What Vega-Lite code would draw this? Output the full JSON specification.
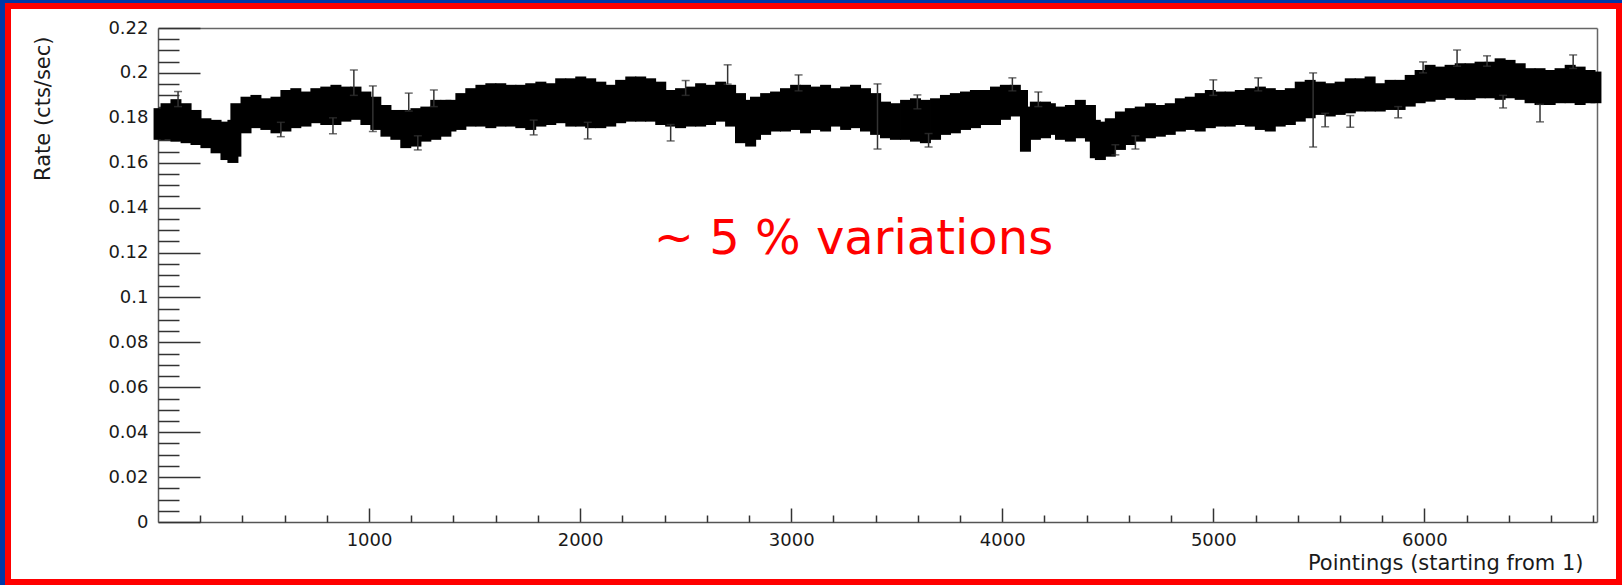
{
  "$schema": "https://vega.github.io/schema/vega-lite/v6.json",
  "width": 1611,
  "height": 576,
  "autosize": {"type": "none"},
  "padding": {"left": 8, "top": 6, "right": 3, "bottom": 3},
  "background": "#0038a8",
  "config": {
    "view": {"fill": "white", "stroke": "#ff0000", "strokeWidth": 6},
    "axis": {
      "grid": false,
      "labelFont": "DejaVu Sans",
      "labelFontSize": 18,
      "labelColor": "#1a1a1a",
      "titleFont": "DejaVu Sans",
      "titleFontSize": 21,
      "titleFontWeight": "normal",
      "titleColor": "#1a1a1a",
      "tickColor": "#333333",
      "tickWidth": 1.5,
      "domainColor": "#555555",
      "domainWidth": 1.5
    }
  },
  "datasets": {
    "band": [
      {"p": 5, "low": 0.1702, "high": 0.1843},
      {"p": 38, "low": 0.1702, "high": 0.1865},
      {"p": 85, "low": 0.1694, "high": 0.1883},
      {"p": 133, "low": 0.1687, "high": 0.1865},
      {"p": 180, "low": 0.1679, "high": 0.1835},
      {"p": 227, "low": 0.1665, "high": 0.1798},
      {"p": 275, "low": 0.1642, "high": 0.1791},
      {"p": 322, "low": 0.1612, "high": 0.1783},
      {"p": 355, "low": 0.1599, "high": 0.1791},
      {"p": 369, "low": 0.1627, "high": 0.1865},
      {"p": 417, "low": 0.1731, "high": 0.1894},
      {"p": 464, "low": 0.1754, "high": 0.1902},
      {"p": 511, "low": 0.1746, "high": 0.1887},
      {"p": 559, "low": 0.1731, "high": 0.1894},
      {"p": 606, "low": 0.1739, "high": 0.1924},
      {"p": 653, "low": 0.1754, "high": 0.1932},
      {"p": 701, "low": 0.1761, "high": 0.1917},
      {"p": 748, "low": 0.1776, "high": 0.1932},
      {"p": 795, "low": 0.1768, "high": 0.1939},
      {"p": 843, "low": 0.1768, "high": 0.1947},
      {"p": 890, "low": 0.1783, "high": 0.1939},
      {"p": 938, "low": 0.1791, "high": 0.1939},
      {"p": 985, "low": 0.1768, "high": 0.1917},
      {"p": 1032, "low": 0.1746, "high": 0.1894},
      {"p": 1080, "low": 0.1716, "high": 0.1857},
      {"p": 1127, "low": 0.1702, "high": 0.1835},
      {"p": 1174, "low": 0.1665, "high": 0.1835},
      {"p": 1222, "low": 0.1672, "high": 0.1843},
      {"p": 1269, "low": 0.1694, "high": 0.1850},
      {"p": 1316, "low": 0.1702, "high": 0.1880},
      {"p": 1364, "low": 0.1716, "high": 0.1880},
      {"p": 1388, "low": 0.1739, "high": 0.1880},
      {"p": 1435, "low": 0.1746, "high": 0.1910},
      {"p": 1482, "low": 0.1761, "high": 0.1932},
      {"p": 1530, "low": 0.1761, "high": 0.1947},
      {"p": 1577, "low": 0.1754, "high": 0.1954},
      {"p": 1624, "low": 0.1761, "high": 0.1954},
      {"p": 1672, "low": 0.1761, "high": 0.1947},
      {"p": 1719, "low": 0.1754, "high": 0.1947},
      {"p": 1766, "low": 0.1746, "high": 0.1954},
      {"p": 1814, "low": 0.1761, "high": 0.1961},
      {"p": 1861, "low": 0.1768, "high": 0.1954},
      {"p": 1908, "low": 0.1776, "high": 0.1976},
      {"p": 1956, "low": 0.1761, "high": 0.1976},
      {"p": 2003, "low": 0.1761, "high": 0.1984},
      {"p": 2050, "low": 0.1754, "high": 0.1976},
      {"p": 2098, "low": 0.1754, "high": 0.1961},
      {"p": 2145, "low": 0.1761, "high": 0.1947},
      {"p": 2192, "low": 0.1776, "high": 0.1969},
      {"p": 2240, "low": 0.1783, "high": 0.1984},
      {"p": 2287, "low": 0.1783, "high": 0.1984},
      {"p": 2334, "low": 0.1783, "high": 0.1976},
      {"p": 2382, "low": 0.1768, "high": 0.1961},
      {"p": 2429, "low": 0.1761, "high": 0.1924},
      {"p": 2476, "low": 0.1754, "high": 0.1932},
      {"p": 2524, "low": 0.1761, "high": 0.1939},
      {"p": 2571, "low": 0.1761, "high": 0.1954},
      {"p": 2618, "low": 0.1768, "high": 0.1947},
      {"p": 2666, "low": 0.1783, "high": 0.1961},
      {"p": 2713, "low": 0.1761, "high": 0.1947},
      {"p": 2760, "low": 0.1687, "high": 0.1910},
      {"p": 2808, "low": 0.1672, "high": 0.1880},
      {"p": 2831, "low": 0.1702, "high": 0.1894},
      {"p": 2879, "low": 0.1724, "high": 0.1910},
      {"p": 2926, "low": 0.1739, "high": 0.1917},
      {"p": 2973, "low": 0.1739, "high": 0.1932},
      {"p": 3021, "low": 0.1746, "high": 0.1947},
      {"p": 3068, "low": 0.1731, "high": 0.1947},
      {"p": 3116, "low": 0.1746, "high": 0.1939},
      {"p": 3163, "low": 0.1739, "high": 0.1947},
      {"p": 3210, "low": 0.1761, "high": 0.1932},
      {"p": 3258, "low": 0.1746, "high": 0.1939},
      {"p": 3305, "low": 0.1754, "high": 0.1947},
      {"p": 3352, "low": 0.1739, "high": 0.1932},
      {"p": 3400, "low": 0.1724, "high": 0.1910},
      {"p": 3447, "low": 0.1709, "high": 0.1872},
      {"p": 3494, "low": 0.1702, "high": 0.1865},
      {"p": 3542, "low": 0.1702, "high": 0.1880},
      {"p": 3589, "low": 0.1694, "high": 0.1887},
      {"p": 3636, "low": 0.1687, "high": 0.1880},
      {"p": 3684, "low": 0.1702, "high": 0.1887},
      {"p": 3731, "low": 0.1724, "high": 0.1902},
      {"p": 3778, "low": 0.1731, "high": 0.1910},
      {"p": 3826, "low": 0.1746, "high": 0.1917},
      {"p": 3873, "low": 0.1754, "high": 0.1924},
      {"p": 3920, "low": 0.1768, "high": 0.1924},
      {"p": 3968, "low": 0.1768, "high": 0.1939},
      {"p": 4015, "low": 0.1791, "high": 0.1947},
      {"p": 4062, "low": 0.1806, "high": 0.1947},
      {"p": 4096, "low": 0.1813, "high": 0.1924},
      {"p": 4110, "low": 0.1649, "high": 0.1850},
      {"p": 4157, "low": 0.1702, "high": 0.1872},
      {"p": 4205, "low": 0.1709, "high": 0.1872},
      {"p": 4228, "low": 0.1724, "high": 0.1865},
      {"p": 4276, "low": 0.1702, "high": 0.1850},
      {"p": 4323, "low": 0.1694, "high": 0.1857},
      {"p": 4370, "low": 0.1709, "high": 0.1880},
      {"p": 4418, "low": 0.1694, "high": 0.1857},
      {"p": 4441, "low": 0.1620, "high": 0.1791},
      {"p": 4465, "low": 0.1612, "high": 0.1783},
      {"p": 4512, "low": 0.1627, "high": 0.1798},
      {"p": 4560, "low": 0.1657, "high": 0.1828},
      {"p": 4607, "low": 0.1679, "high": 0.1843},
      {"p": 4654, "low": 0.1694, "high": 0.1850},
      {"p": 4702, "low": 0.1709, "high": 0.1865},
      {"p": 4749, "low": 0.1716, "high": 0.1857},
      {"p": 4796, "low": 0.1724, "high": 0.1865},
      {"p": 4844, "low": 0.1739, "high": 0.1887},
      {"p": 4891, "low": 0.1746, "high": 0.1894},
      {"p": 4938, "low": 0.1739, "high": 0.1910},
      {"p": 4986, "low": 0.1754, "high": 0.1924},
      {"p": 5033, "low": 0.1761, "high": 0.1917},
      {"p": 5080, "low": 0.1761, "high": 0.1917},
      {"p": 5128, "low": 0.1768, "high": 0.1924},
      {"p": 5175, "low": 0.1761, "high": 0.1932},
      {"p": 5223, "low": 0.1746, "high": 0.1939},
      {"p": 5270, "low": 0.1739, "high": 0.1932},
      {"p": 5317, "low": 0.1761, "high": 0.1924},
      {"p": 5365, "low": 0.1768, "high": 0.1932},
      {"p": 5412, "low": 0.1783, "high": 0.1961},
      {"p": 5459, "low": 0.1798, "high": 0.1969},
      {"p": 5507, "low": 0.1813, "high": 0.1961},
      {"p": 5554, "low": 0.1806, "high": 0.1954},
      {"p": 5601, "low": 0.1813, "high": 0.1961},
      {"p": 5649, "low": 0.1820, "high": 0.1976},
      {"p": 5696, "low": 0.1828, "high": 0.1976},
      {"p": 5743, "low": 0.1828, "high": 0.1984},
      {"p": 5791, "low": 0.1828, "high": 0.1954},
      {"p": 5838, "low": 0.1835, "high": 0.1969},
      {"p": 5885, "low": 0.1835, "high": 0.1969},
      {"p": 5933, "low": 0.1850, "high": 0.1991},
      {"p": 5980, "low": 0.1865, "high": 0.2013},
      {"p": 6027, "low": 0.1872, "high": 0.2036},
      {"p": 6075, "low": 0.1880, "high": 0.2028},
      {"p": 6122, "low": 0.1887, "high": 0.2036},
      {"p": 6170, "low": 0.1880, "high": 0.2043},
      {"p": 6217, "low": 0.1880, "high": 0.2043},
      {"p": 6264, "low": 0.1887, "high": 0.2050},
      {"p": 6312, "low": 0.1887, "high": 0.2050},
      {"p": 6359, "low": 0.1880, "high": 0.2065},
      {"p": 6406, "low": 0.1887, "high": 0.2058},
      {"p": 6454, "low": 0.1880, "high": 0.2043},
      {"p": 6501, "low": 0.1865, "high": 0.2021},
      {"p": 6548, "low": 0.1857, "high": 0.2021},
      {"p": 6596, "low": 0.1857, "high": 0.2013},
      {"p": 6643, "low": 0.1865, "high": 0.2021},
      {"p": 6691, "low": 0.1865, "high": 0.2036},
      {"p": 6738, "low": 0.1857, "high": 0.2028},
      {"p": 6785, "low": 0.1865, "high": 0.2013},
      {"p": 6813, "low": 0.1865, "high": 0.2006}
    ],
    "outliers": [
      {"p": 95, "low": 0.1850, "high": 0.1917},
      {"p": 582, "low": 0.1716, "high": 0.1780},
      {"p": 829, "low": 0.1729, "high": 0.1800},
      {"p": 928, "low": 0.1900, "high": 0.2013},
      {"p": 1018, "low": 0.1739, "high": 0.1942},
      {"p": 1188, "low": 0.1830, "high": 0.1910},
      {"p": 1231, "low": 0.1657, "high": 0.1720},
      {"p": 1307, "low": 0.1850, "high": 0.1924},
      {"p": 1780, "low": 0.1724, "high": 0.1790},
      {"p": 2036, "low": 0.1706, "high": 0.1780},
      {"p": 2429, "low": 0.1697, "high": 0.1770},
      {"p": 2500, "low": 0.1900, "high": 0.1966},
      {"p": 2699, "low": 0.1950, "high": 0.2036},
      {"p": 3035, "low": 0.1920, "high": 0.1991},
      {"p": 3409, "low": 0.1661, "high": 0.1951},
      {"p": 3598, "low": 0.1840, "high": 0.1902},
      {"p": 3651, "low": 0.1670, "high": 0.1730},
      {"p": 4048, "low": 0.1920, "high": 0.1978},
      {"p": 4171, "low": 0.1850, "high": 0.1915},
      {"p": 4536, "low": 0.1635, "high": 0.1680},
      {"p": 4631, "low": 0.1661, "high": 0.1720},
      {"p": 5000, "low": 0.1900, "high": 0.1969},
      {"p": 5213, "low": 0.1920, "high": 0.1978},
      {"p": 5473, "low": 0.1670, "high": 0.2000},
      {"p": 5530, "low": 0.1760, "high": 0.1820},
      {"p": 5649, "low": 0.1758, "high": 0.1810},
      {"p": 5876, "low": 0.1800, "high": 0.1850},
      {"p": 5994, "low": 0.2000, "high": 0.2049},
      {"p": 6155, "low": 0.2030, "high": 0.2102},
      {"p": 6297, "low": 0.2030, "high": 0.2076},
      {"p": 6373, "low": 0.1844, "high": 0.1900},
      {"p": 6548, "low": 0.1782, "high": 0.1860},
      {"p": 6705, "low": 0.2020, "high": 0.2080}
    ],
    "note": [
      {"p": 3295, "rate": 0.1194, "label": "~ 5 % variations"}
    ]
  },
  "layer": [
    {
      "data": {"name": "band"},
      "mark": {"type": "rule", "strokeWidth": 11, "color": "#000000"},
      "encoding": {
        "x": {
          "field": "p", "type": "quantitative",
          "scale": {"domain": [0, 6818], "range": [150, 1589], "nice": false, "zero": false},
          "axis": {
            "orient": "bottom", "offset": -60,
            "values": [1000, 2000, 3000, 4000, 5000, 6000],
            "format": "d", "tickSize": -14, "labelPadding": 23,
            "title": "Pointings (starting from 1)",
            "titleX": 1575, "titleY": 41, "titleAlign": "right", "titleBaseline": "middle"
          }
        },
        "y": {
          "field": "low", "type": "quantitative",
          "scale": {"domain": [0, 0.22], "range": [516, 22], "nice": false, "zero": false},
          "axis": {
            "orient": "left", "offset": -150,
            "values": [0, 0.02, 0.04, 0.06, 0.08, 0.1, 0.12, 0.14, 0.16, 0.18, 0.2, 0.22],
            "format": "~g", "tickSize": -42, "labelPadding": 52,
            "title": "Rate (cts/sec)",
            "titleX": -115, "titleY": 30, "titleAngle": -90, "titleAlign": "right", "titleBaseline": "middle"
          }
        },
        "y2": {"field": "high"}
      }
    },
    {
      "data": {"name": "outliers"},
      "mark": {"type": "rule", "strokeWidth": 1.5, "color": "#333333"},
      "encoding": {
        "x": {
          "field": "p", "type": "quantitative",
          "axis": {
            "orient": "bottom", "offset": -60,
            "values": [200, 400, 600, 800, 1200, 1400, 1600, 1800, 2200, 2400, 2600, 2800, 3200, 3400, 3600, 3800, 4200, 4400, 4600, 4800, 5200, 5400, 5600, 5800, 6200, 6400, 6600, 6800],
            "labels": false, "domain": false, "tickSize": -7, "title": null
          }
        },
        "y": {
          "field": "low", "type": "quantitative",
          "axis": {
            "orient": "left", "offset": -150,
            "values": [0.005, 0.01, 0.015, 0.025, 0.03, 0.035, 0.045, 0.05, 0.055, 0.065, 0.07, 0.075, 0.085, 0.09, 0.095, 0.105, 0.11, 0.115, 0.125, 0.13, 0.135, 0.145, 0.15, 0.155, 0.165, 0.17, 0.175, 0.185, 0.19, 0.195, 0.205, 0.21, 0.215],
            "labels": false, "domain": false, "tickSize": -21, "title": null
          }
        },
        "y2": {"field": "high"}
      }
    },
    {
      "data": {"name": "outliers"},
      "mark": {"type": "tick", "orient": "horizontal", "size": 8, "thickness": 1.5, "color": "#333333"},
      "encoding": {
        "x": {
          "field": "p", "type": "quantitative",
          "axis": {"orient": "top", "offset": -22, "ticks": false, "labels": false, "title": null, "domainColor": "#666666"}
        },
        "y": {
          "field": "low", "type": "quantitative",
          "axis": {"orient": "right", "offset": -22, "ticks": false, "labels": false, "title": null, "domainColor": "#666666"}
        }
      }
    },
    {
      "data": {"name": "outliers"},
      "mark": {"type": "tick", "orient": "horizontal", "size": 8, "thickness": 1.5, "color": "#333333"},
      "encoding": {
        "x": {"field": "p", "type": "quantitative", "axis": null},
        "y": {"field": "high", "type": "quantitative", "axis": null}
      }
    },
    {
      "data": {"name": "note"},
      "mark": {"type": "text", "font": "DejaVu Sans", "fontSize": 48, "color": "#ff0000", "align": "center", "baseline": "alphabetic"},
      "encoding": {
        "x": {"field": "p", "type": "quantitative", "axis": null},
        "y": {"field": "rate", "type": "quantitative", "axis": null},
        "text": {"field": "label"}
      }
    }
  ],
  "resolve": {"axis": {"x": "independent", "y": "independent"}}
}
